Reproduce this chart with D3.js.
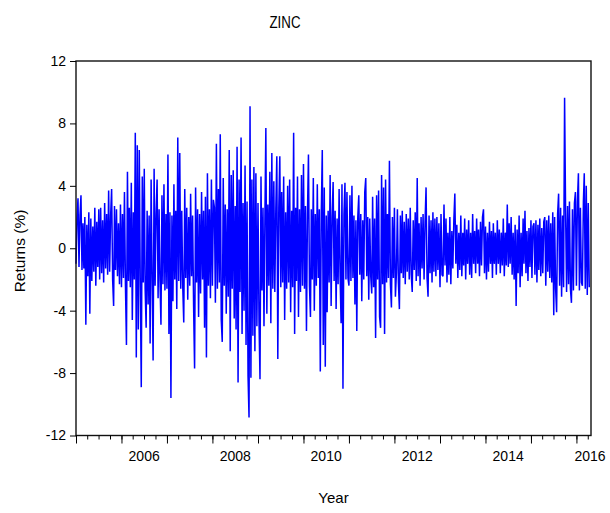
<!DOCTYPE html>
<html>
<head>
<meta charset="utf-8">
<script src="https://cdn.jsdelivr.net/npm/d3@7"></script>
<style>
  html, body { margin: 0; padding: 0; background: #fff; }
  svg { display: block; }
  text { font-family: "Liberation Sans", Arial, sans-serif; fill: #000; }
</style>
</head>
<body>
<svg id="chart" width="610" height="513"></svg>
<script>
// Zinc daily returns (%), sampled roughly weekly, one array per calendar year
const r2005 = [-1.0, 1.9, 3.2, -1.2, 2.1, 3.4, -1.4, 1.6, -1.3, 2.0, -4.9, 1.5, -1.8, 2.3, -4.2, 1.9, -2.1, 1.4, -1.5, 2.6, -2.4, 1.7, -1.2, 2.5, -2.0, 2.6, -1.6, 1.8, -2.2, 2.9, -1.3, 2.2, -1.7, 3.7, -1.5, 2.1, 3.8, -2.0, -3.7, 2.7, -1.4, 2.5, -1.8, 1.6, -2.3, 2.8];
const r2006 = [-2.5, 2.2, -1.9, 3.6, -2.4, -6.2, 4.9, -2.1, 2.6, -2.5, 4.2, -4.6, 2.3, -2.0, 7.4, -7.0, 6.6, -5.2, 6.3, -2.4, -8.9, 4.6, -2.2, 5.1, -2.6, -5.1, 2.4, -3.6, 2.1, -6.1, 4.4, -1.9, -7.2, 5.1, -2.4, 2.2, 4.4, -3.2, 2.5, -2.0, -4.9, 3.4, -2.3, 4.1, -2.7, 2.2];
const r2007 = [-2.6, 6.0, -5.5, 2.3, -9.6, 2.1, -3.4, 4.1, -2.0, 2.4, -3.9, 7.1, -2.1, 6.1, -2.6, 2.4, -2.5, -4.75, 3.8, -1.9, 2.6, -3.3, 2.0, -2.4, 3.5, -1.8, 2.1, -3.7, -7.7, 3.9, -2.2, 2.5, -4.4, 2.2, -2.9, 3.6, -2.0, 2.4, -5.1, 3.3, -7.0, 4.8, -2.4, 2.5, -3.2, 4.4];
const r2008 = [-2.4, 3.1, 2.6, -3.5, 6.7, -2.6, 3.8, -2.2, 7.3, -4.6, -6.0, 4.5, -2.4, 2.8, -4.2, 2.5, -3.1, 6.3, -6.6, 4.7, -2.6, 5.0, -4.5, 2.7, -5.2, 6.5, -8.6, 4.4, -2.8, 7.1, -5.5, 2.9, -4.0, 5.3, -6.2, 3.0, -8.2, -10.85, 9.1, -8.3, 4.4, -5.6, 5.2, -6.6, 4.8, -5.0];
const r2009 = [2.9, -4.6, -8.4, 4.6, -2.7, 2.6, -5.0, 2.4, 7.7, -4.2, 2.8, -2.4, 4.9, -4.8, 6.1, -2.6, 4.3, -2.8, 2.5, 5.9, -7.1, 2.6, 5.9, -2.5, 3.6, -2.2, 4.6, -4.6, 2.3, -2.6, 4.0, -2.2, 4.4, -4.1, 2.4, -2.5, 7.4, -5.5, 2.6, -2.1, 4.6, -4.4, 2.5, -2.8, 4.7, -2.4];
const r2010 = [5.4, -2.6, 2.7, -5.3, 2.2, 6.0, -2.4, -4.4, 2.5, -2.0, 4.5, -4.0, 2.2, -2.4, 4.1, -1.9, 2.5, -7.9, 2.3, 6.3, -6.2, 3.9, -7.6, 2.1, -4.1, 2.4, -2.2, 4.7, -3.7, 2.0, 4.25, -2.1, 2.4, -3.9, 1.9, -2.3, 3.8, -1.8, -4.8, 4.1, -9.0, 2.2, 4.2, -2.0, 3.6, -1.9];
const r2011 = [-2.4, 3.4, -2.1, 4.0, -1.9, 2.1, -3.6, 1.8, -5.3, 2.0, 3.4, -1.7, 2.2, -3.4, 1.8, -2.0, 3.6, 4.5, -1.8, 2.0, -3.3, 1.9, -1.8, -2.9, 3.3, -2.5, 1.9, -5.75, 3.4, -2.0, 3.7, -4.4, -5.1, 4.7, -2.3, 3.9, -5.5, 4.4, -2.2, 2.2, -1.9, 5.6, -2.3, -3.8, 2.0, -1.9];
const r2012 = [2.6, -3.1, -1.6, 2.5, -2.2, -3.9, 2.1, -1.6, 2.4, -1.9, 1.7, -2.3, 2.2, -1.5, 1.9, -2.0, 2.6, -1.7, -2.8, 1.8, -1.4, 2.3, -2.1, 4.5, -1.8, 1.6, -2.4, 2.0, -1.3, 2.2, -2.0, 1.7, 3.9, -1.9, -3.1, 2.1, -1.6, 1.8, -2.2, 2.3, -1.5, 1.9, -1.8, 2.0, -1.4, 1.6];
const r2013 = [-2.5, 2.2, -1.7, -1.8, 2.8, -1.1, 1.9, -2.2, 1.0, -1.7, 2.0, -2.3, 1.1, -1.3, 1.8, 3.5, -1.0, 1.5, -1.9, 1.0, -1.4, 2.1, -1.8, 1.0, -1.1, 1.9, -2.0, 1.2, -1.0, 1.8, -1.7, 1.0, -1.9, 2.2, -1.0, 1.1, -1.6, 1.9, -1.0, 1.2, -1.8, 1.7, -1.1, 2.0, 2.5, -1.6];
const r2014 = [1.4, -2.0, 1.0, -1.5, 1.7, -1.0, 1.1, -1.9, 1.6, -1.0, 1.0, -1.7, 1.8, -1.0, 1.2, -1.6, 1.0, -1.1, 1.9, -1.8, 1.0, -1.1, 2.8, -1.2, 1.6, -1.0, 2.0, -1.7, 1.0, -2.0, 1.5, -3.7, 1.2, -1.6, 2.1, -2.5, 1.0, -1.8, 1.9, -1.0, 2.4, -1.6, 1.1, -2.1, 1.3, -1.2];
const r2015 = [1.8, -1.9, 1.4, 1.6, -1.7, 1.8, -2.2, 1.5, -1.4, 1.9, -1.8, 1.3, -1.6, 1.7, 2.0, -2.4, 1.8, -1.5, 2.1, -1.9, 1.6, -2.2, 2.3, -4.3, 2.0, -2.6, -4.1, 2.2, 3.5, -2.4, 2.6, -3.1, 2.1, -2.5, 9.65, 2.4, -2.8, 2.7, -2.3, 3.0, -2.6, -3.5, 2.5, -2.7, 2.9, 3.6];
const r2016 = [-2.4, 3.0, 4.8, -2.7, 2.6, -2.2, -2.4, 3.0, 4.8, -2.6, 4.0, -3.0, 2.9, -2.5];

const years = [2005, 2006, 2007, 2008, 2009, 2010, 2011, 2012, 2013, 2014, 2015, 2016];
const returnsByYear = [r2005, r2006, r2007, r2008, r2009, r2010, r2011, r2012, r2013, r2014, r2015, r2016];
const samplesPerYear = 46;

const yTicks = [-12, -8, -4, 0, 4, 8, 12];
const xLabelYears = ["2006", "2008", "2010", "2012", "2014", "2016"];

const titleText = "ZINC";
const xTitle = "Year";
const yTitle = "Returns (%)";

// build dated series
const series = [];
years.forEach((yr, i) => {
  returnsByYear[i].forEach((v, k) => {
    const date = d3.timeDay.offset(new Date(yr, 0, 1), Math.round(k * 365 / samplesPerYear));
    series.push({ date, value: v });
  });
});

const svg = d3.select("#chart");
const plotLeft = 76, plotRight = 591, plotTop = 61, plotBottom = 435.5;

const x = d3.scaleTime()
  .domain([new Date(2005, 0, 1), new Date(2016, 3, 27)])
  .range([plotLeft, plotRight]);
const y = d3.scaleLinear().domain([-12, 12]).range([plotBottom, plotTop]);

// data line
const line = d3.line().x(d => x(d.date)).y(d => y(d.value));
svg.append("path")
  .datum(series)
  .attr("d", line)
  .attr("fill", "none")
  .attr("stroke", "#0000ff")
  .attr("stroke-width", 1.5)
  .attr("stroke-linejoin", "bevel");

// plot frame
svg.append("rect")
  .attr("x", plotLeft).attr("y", plotTop)
  .attr("width", plotRight - plotLeft).attr("height", plotBottom - plotTop)
  .attr("fill", "none")
  .attr("stroke", "#111")
  .attr("stroke-width", 1.4);

// y axis
const yAxis = svg.append("g")
  .attr("transform", `translate(${plotLeft},0)`)
  .call(d3.axisLeft(y).tickValues(yTicks).tickSize(6).tickPadding(4).tickFormat(d => String(d)));
yAxis.select(".domain").remove();
yAxis.selectAll("text").style("font-size", "14px").style("font-family", "'Liberation Sans', Arial, sans-serif").attr("fill", "#000");
yAxis.selectAll("line").attr("stroke", "#000");

// x axis: quarterly minor ticks and yearly major ticks
const xMinor = svg.append("g")
  .attr("transform", `translate(0,${plotBottom})`)
  .call(d3.axisBottom(x).ticks(d3.timeMonth.every(3)).tickSize(4).tickFormat(""));
xMinor.select(".domain").remove();
xMinor.selectAll("line").attr("stroke", "#000");

const xMajor = svg.append("g")
  .attr("transform", `translate(0,${plotBottom})`)
  .call(d3.axisBottom(x).ticks(d3.timeYear.every(1)).tickSize(8).tickFormat(""));
xMajor.select(".domain").remove();
xMajor.selectAll("line").attr("stroke", "#000");

// year labels, centred on the middle of each labelled year
svg.append("g").selectAll("text")
  .data(xLabelYears)
  .join("text")
  .attr("x", d => Math.min(x(new Date(+d, 6, 2)), 590))
  .attr("y", 461)
  .attr("text-anchor", "middle")
  .style("font-size", "14px")
  .text(d => d);

// titles
svg.append("text")
  .attr("x", 285).attr("y", 28)
  .attr("text-anchor", "middle")
  .attr("textLength", 31)
  .attr("lengthAdjust", "spacingAndGlyphs")
  .style("font-size", "17px")
  .text(titleText);

svg.append("text")
  .attr("x", (plotLeft + plotRight) / 2).attr("y", 503)
  .attr("text-anchor", "middle")
  .style("font-size", "15px")
  .text(xTitle);

svg.append("text")
  .attr("transform", "translate(25,251) rotate(-90)")
  .attr("text-anchor", "middle")
  .style("font-size", "15.5px")
  .text(yTitle);
</script>
</body>
</html>
